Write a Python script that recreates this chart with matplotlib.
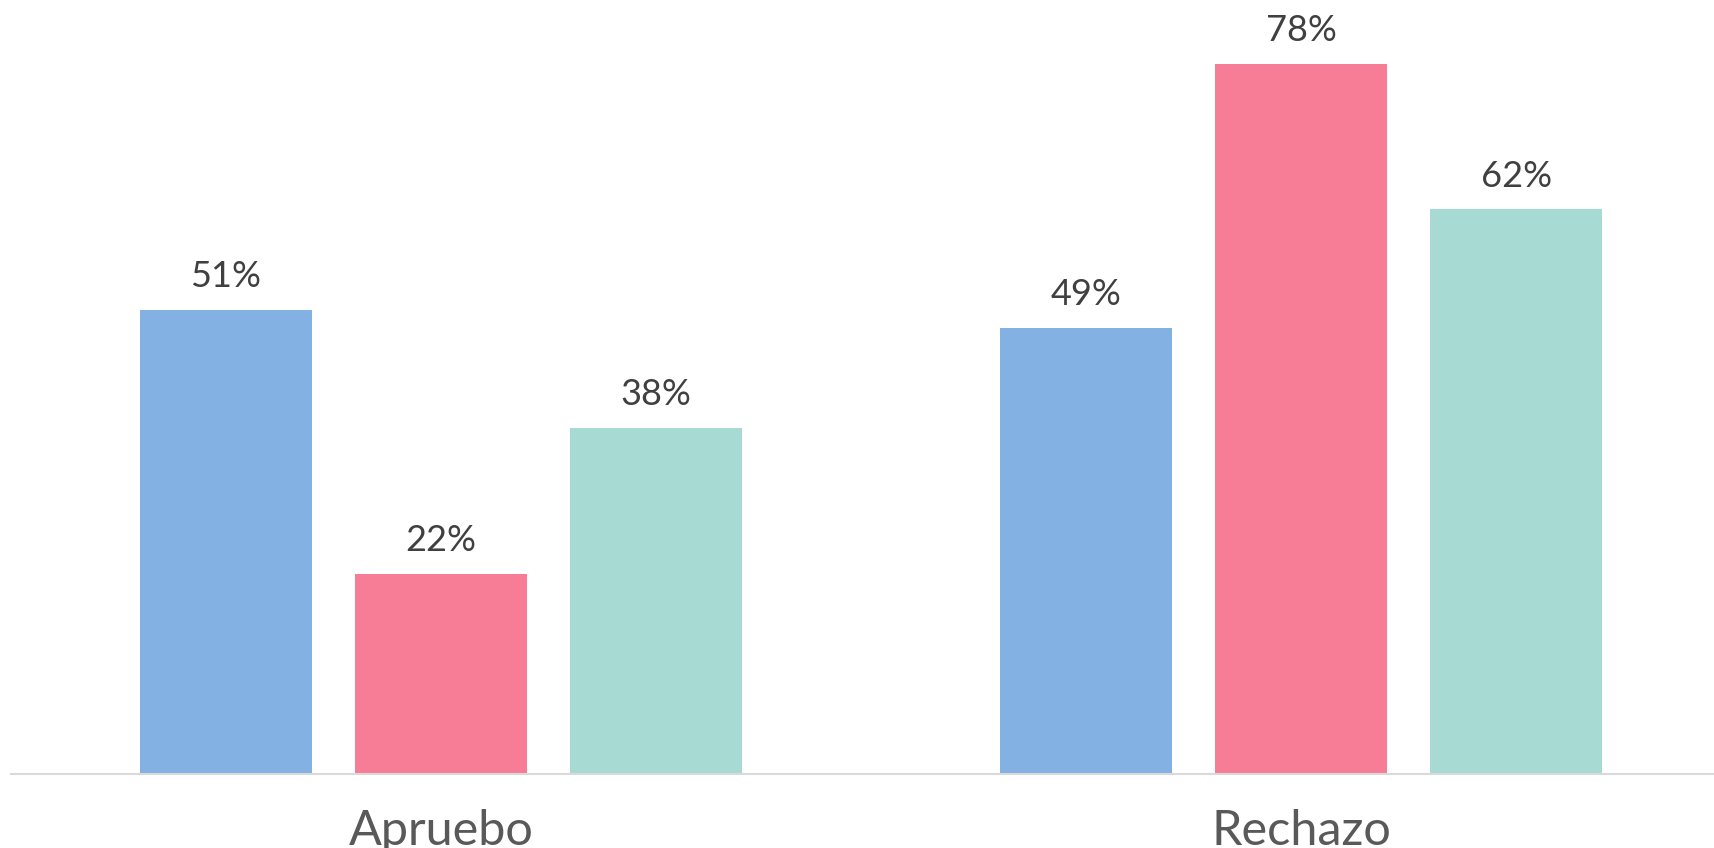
import matplotlib
matplotlib.use("Agg")
import matplotlib.pyplot as plt
import numpy as np

# ─── Data ────────────────────────────────────────────────────────────────────
categories = ["Apruebo", "Rechazo"]
serie_1 = [51, 49]   # blue
serie_2 = [22, 78]   # pink
serie_3 = [38, 62]   # teal

colors = ["#83B1E4", "#F67D95", "#A8DAD4"]

# ─── Plotting ────────────────────────────────────────────────────────────────
plt.rcParams["font.family"] = ["Lato", "DejaVu Sans"]

fig = plt.figure(figsize=(17.14, 8.48), dpi=100)
ax = fig.add_axes([11 / 1714, 74 / 848, 1 - 11 / 1714, 1 - 74 / 848])

x = np.arange(len(categories))
width = 0.2
offsets = [-0.25, 0.0, 0.25]

for series, off, col in zip([serie_1, serie_2, serie_3], offsets, colors):
    bars = ax.bar(x + off, series, width=width, color=col, zorder=2)
    for b, v in zip(bars, series):
        ax.annotate(f"{v}%", (b.get_x() + b.get_width() / 2, v),
                    xytext=(0, 12), textcoords="offset points",
                    ha="center", va="bottom", fontsize=26, color="#404040")

ax.set_xlim(-0.5, 1.48)
ax.set_ylim(0, 85)
ax.set_xticks(x)
ax.set_xticklabels(categories, fontsize=35, color="#595959")
ax.tick_params(axis="x", length=0, pad=25)
ax.set_yticks([])
for s in ["top", "left", "right"]:
    ax.spines[s].set_visible(False)
ax.spines["bottom"].set_color("#D9D9D9")
ax.spines["bottom"].set_linewidth(1.5)

fig.savefig("out.png", dpi=100)
